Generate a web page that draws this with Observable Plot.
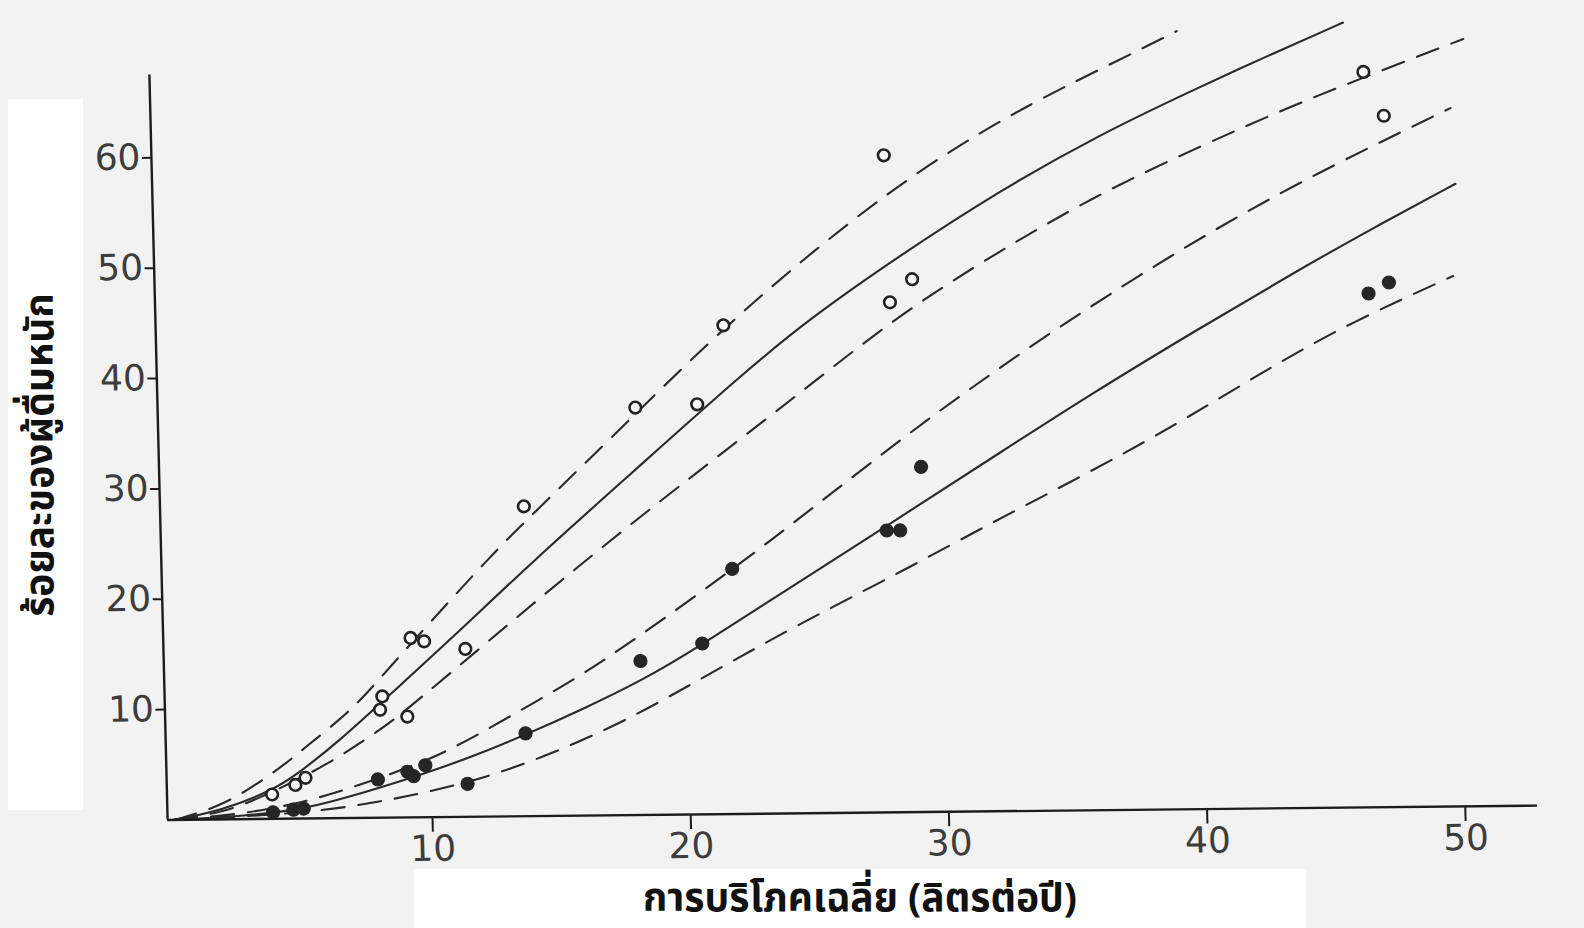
<!DOCTYPE html>
<html><head><meta charset="utf-8">
<script src="https://cdn.jsdelivr.net/npm/d3@7"></script>
<script src="https://cdn.jsdelivr.net/npm/@observablehq/plot@0.6"></script>
<style>
body{margin:0;background:#f2f2f2;}
#wrap{position:relative;width:1584px;height:928px;overflow:hidden;background:#f2f2f2;}
#chart{position:absolute;left:0;top:0;width:1584px;height:928px;}
#chart svg{position:absolute;left:0;top:0;}
.ylab{position:absolute;left:8px;top:99px;width:75px;height:711px;background:#fff;}
.ylab span{position:absolute;left:44%;top:50%;transform:translate(-50%,-50%) rotate(-90deg);white-space:nowrap;font:bold 39px "Noto Sans Thai","Noto Sans",sans-serif;color:#111;}
.xlab{position:absolute;left:414px;top:869px;width:892px;height:59px;background:#fff;}
.xlab span{position:absolute;left:50%;top:31px;transform:translate(-50%,-50%);white-space:nowrap;font:bold 39px "Noto Sans Thai","Noto Sans",sans-serif;color:#111;line-height:1.2;}
</style>
</head><body>
<div id="wrap"><div id="chart"></div>
<div class="ylab"><span>ร้อยละของผู้ดื่มหนัก</span></div>
<div class="xlab"><span>การบริโภคเฉลี่ย (ลิตรต่อปี)</span></div>
</div>
<script>
const xTicks = [10, 20, 30, 40, 50];
const yTicks = [10, 20, 30, 40, 50, 60];

// upper group (open circles): upper dashed, solid, lower dashed
const upperHighX = [0, 2.05, 4.27, 4.95, 6.53, 7.45, 9.32, 12.59, 13.81, 18.28, 22.44, 28.41, 33.14, 36.55, 39.56];
const upperHighY = [0, 1.3, 4.8, 6.1, 8.97, 10.93, 15.76, 23.83, 26.58, 36.41, 45.65, 56.74, 63.3, 67.1, 70.5];
const upperMidX = [0, 1.85, 3.85, 4.85, 6.51, 8.5, 10.93, 14.17, 18.02, 22.38, 25.01, 28.64, 32.57, 36.48, 40.19, 42.8, 46.01];
const upperMidY = [0, 0.8, 2.6, 4.1, 7.08, 11.21, 16.22, 23.19, 30.95, 39.79, 44.7, 50.47, 56.24, 61.21, 65.2, 67.92, 71.12];
const upperLowX = [0, 1.85, 3.34, 5.71, 7.94, 9.12, 11.4, 16.46, 21.91, 24.95, 28.68, 32.51, 36.23, 40.14, 43.74, 46.75, 50.65];
const upperLowY = [0, 0.6, 1.9, 4.49, 7.74, 9.8, 14.12, 23.74, 33.34, 38.64, 45.3, 50.78, 55.65, 59.83, 63.42, 66.13, 69.52];

// lower group (filled circles)
const lowerHighX = [0, 2.84, 5.33, 7.72, 10.32, 12.83, 15.85, 17.96, 21.9, 24.93, 28.77, 31.39, 34.41, 39.04, 43.97, 50.09];
const lowerHighY = [0, 0.5, 1.6, 3.37, 5.5, 8.71, 12.62, 15.85, 22.21, 27.5, 34.27, 38.58, 43.37, 50.12, 56.56, 63.27];
const lowerMidX = [0, 2.84, 4.82, 6.42, 9.71, 11.61, 13.71, 15.82, 18.22, 20.34, 23.86, 28.39, 32.32, 35.94, 40.07, 44.09, 47.0, 50.21];
const lowerMidY = [0, 0.3, 0.8, 1.65, 3.92, 5.46, 7.4, 9.54, 12.16, 14.99, 20.17, 26.72, 32.49, 37.77, 43.44, 48.8, 52.51, 56.41];
const lowerLowX = [0, 2.83, 5.32, 7.7, 11.58, 14.78, 17.89, 20.91, 24.32, 28.44, 32.25, 34.86, 38.38, 41.7, 45.32, 50.03];
const lowerLowY = [0, 0.25, 0.6, 1.29, 3.08, 5.69, 8.89, 12.79, 17.08, 21.85, 26.53, 29.55, 33.83, 38.33, 43.21, 48.06];

const openX = [3.81, 4.72, 5.12, 8.17, 8.07, 9.12, 9.32, 9.84, 11.43, 13.83, 18.24, 20.64, 21.73, 28.1, 29.08, 28.2, 46.75, 47.5];
const openY = [2.21, 3.05, 3.69, 10.99, 9.78, 9.14, 16.26, 15.94, 15.21, 28.07, 36.91, 37.15, 44.28, 59.53, 48.28, 46.21, 66.63, 62.64];
const filledX = [3.83, 4.62, 5.02, 7.92, 9.07, 9.31, 9.77, 11.39, 13.68, 18.2, 20.61, 21.84, 27.86, 28.38, 29.25, 46.74, 47.54];
const filledY = [0.59, 0.81, 0.9, 3.47, 4.14, 3.73, 4.71, 2.99, 7.5, 13.95, 15.48, 22.21, 25.54, 25.53, 31.27, 46.55, 47.53];

const curves = [
  {xs: upperHighX, ys: upperHighY, dash: true},
  {xs: upperMidX, ys: upperMidY, dash: false},
  {xs: upperLowX, ys: upperLowY, dash: true},
  {xs: lowerHighX, ys: lowerHighY, dash: true},
  {xs: lowerMidX, ys: lowerMidY, dash: false},
  {xs: lowerLowX, ys: lowerLowY, dash: true}
];
const toRows = (xs, ys) => xs.map((x, i) => ({x, y: ys[i]}));
const xDomain = [-0.26, 52.8];
const yDomain = [0, 73.5];
const yAxisTop = 67.5;

const marks = [];
for (const c of curves) {
  marks.push(Plot.line(toRows(c.xs, c.ys), {
    x: "x", y: "y", curve: "basis", stroke: "#2a2a2a", strokeWidth: 2.1,
    strokeDasharray: c.dash ? "23,14" : null
  }));
}
marks.push(
  Plot.ruleX([xDomain[0]], {y1: 0, y2: yAxisTop, stroke: "#1c1c1c", strokeWidth: 2.4}),
  Plot.ruleY([0], {x1: xDomain[0], x2: xDomain[1], stroke: "#1c1c1c", strokeWidth: 2.4}),
  Plot.axisX({ticks: xTicks, tickSize: 15, tickPadding: 3, fontSize: 36, stroke: "#1c1c1c", strokeWidth: 2, tickFormat: d => String(d), label: null}),
  Plot.axisY({ticks: yTicks, tickSize: 9, tickPadding: 2, fontSize: 36, stroke: "#1c1c1c", strokeWidth: 2, tickFormat: d => String(d), label: null}),
  Plot.dot(toRows(openX, openY), {x: "x", y: "y", r: 5.8, stroke: "#222", strokeWidth: 2.6, fill: "#f7f7f7"}),
  Plot.dot(toRows(filledX, filledY), {x: "x", y: "y", r: 6.6, fill: "#252525", stroke: "#252525", strokeWidth: 1})
);

const chart = Plot.plot({
  width: 1584,
  height: 928,
  marginLeft: 167.1,
  marginRight: 46.9,
  marginTop: 8.0,
  marginBottom: 108.6,
  style: {background: "transparent", fontFamily: "'DejaVu Sans', sans-serif", color: "#3d3d3d", overflow: "visible"},
  x: {domain: xDomain},
  y: {domain: yDomain},
  marks
});
// the scanned original is slightly skewed: reproduce it
chart.style.transformOrigin = "173.8px 819.4px";
chart.style.transform = "matrix(0.99995, -0.01047, 0.02443, 0.9997, 0, 0)";
document.getElementById("chart").appendChild(chart);
</script>
</body></html>
